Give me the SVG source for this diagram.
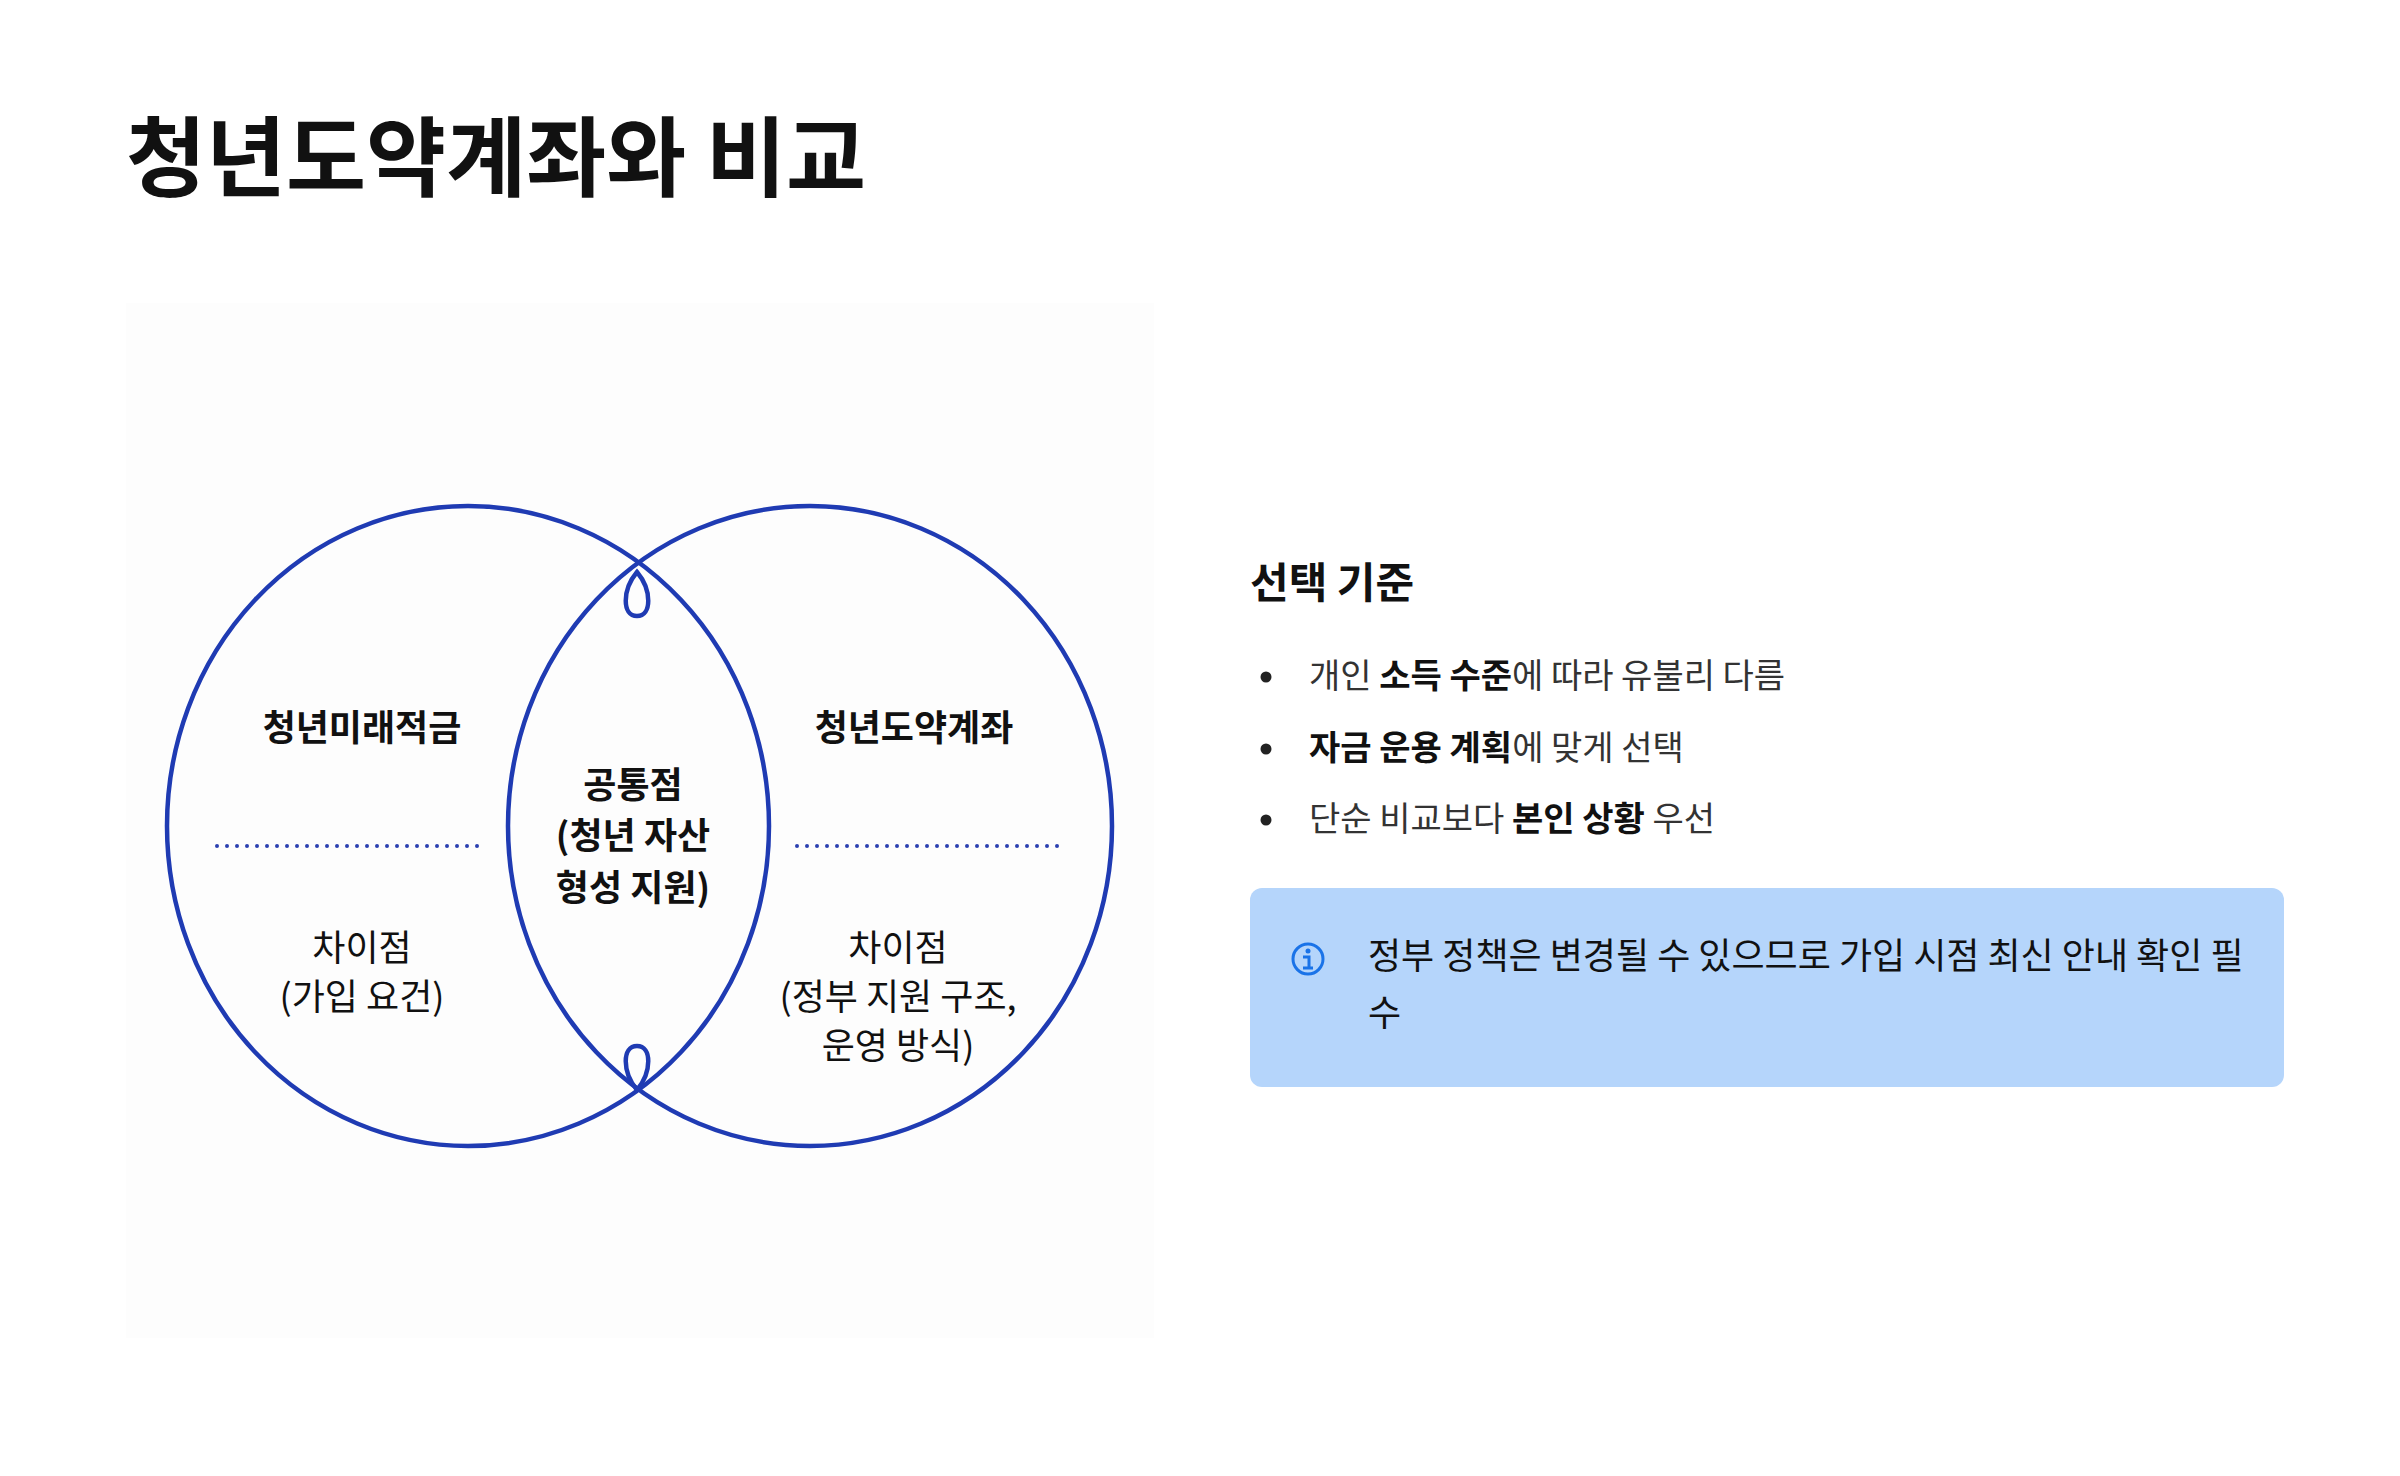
<svg xmlns="http://www.w3.org/2000/svg" width="2400" height="1476" viewBox="0 0 2400 1476">
<style>
text{font-family:"Noto Sans CJK KR","Noto Sans",sans-serif;fill:#111}
.b{font-weight:700}
.v{font-size:36px;text-anchor:middle}
.l{fill:none;stroke:#1f3bb3;stroke-width:4.5}
.dot{stroke:#2a3fb0;stroke-width:4;stroke-linecap:round;stroke-dasharray:0 10}
.bl{font-size:34px;fill:#333}
</style>
<rect width="2400" height="1476" fill="#fff"/>
<text x="126" y="190" class="b" font-size="87">청년도약계좌와 비교</text>
<rect x="126" y="303" width="1028" height="1035" fill="#fdfdfd"/>
<g id="venn">
<ellipse class="l" cx="468" cy="826" rx="301" ry="320"/>
<ellipse class="l" cx="810" cy="826" rx="302" ry="320"/>
<path class="l" d="M637 572 C622 590 622 616 637 616 C652 616 652 590 637 572Z"/>
<path class="l" d="M637 1090 C622 1072 622 1046 637 1046 C652 1046 652 1072 637 1090Z"/>
</g>
<g id="connectors">
<line class="dot" x1="217" y1="846" x2="478" y2="846"/>
<line class="dot" x1="797" y1="846" x2="1058" y2="846"/>
</g>
<g id="left">
<text x="362" y="741" class="v b">청년미래적금</text>
<text x="362" y="961" class="v">차이점</text>
<text x="362" y="1010" class="v">(가입 요건)</text>
</g>
<g id="right">
<text x="914" y="741" class="v b">청년도약계좌</text>
<text x="898" y="961" class="v">차이점</text>
<text x="898" y="1010" class="v">(정부 지원 구조,</text>
<text x="898" y="1059" class="v">운영 방식)</text>
</g>
<g id="center">
<text x="633" y="798" class="v b">공통점</text>
<text x="633" y="849" class="v b">(청년 자산</text>
<text x="633" y="901" class="v b">형성 지원)</text>
</g>
<g id="criteria">
<text x="1250" y="598" class="b" font-size="42">선택 기준</text>
<circle cx="1266" cy="677" r="5.5" fill="#222"/>
<circle cx="1266" cy="749" r="5.5" fill="#222"/>
<circle cx="1266" cy="820" r="5.5" fill="#222"/>
<text x="1309" y="688" class="bl">개인 <tspan class="b" fill="#111">소득 수준</tspan>에 따라 유불리 다름</text>
<text x="1309" y="760" class="bl"><tspan class="b" fill="#111">자금 운용 계획</tspan>에 맞게 선택</text>
<text x="1309" y="831" class="bl">단순 비교보다 <tspan class="b" fill="#111">본인 상황</tspan> 우선</text>
</g>
<g id="info">
<rect x="1250" y="888" width="1034" height="199" rx="12" fill="#b5d5fb"/>
<circle cx="1308" cy="959" r="15" fill="none" stroke="#1a73e8" stroke-width="3"/>
<circle cx="1308" cy="951" r="2.5" fill="#1a73e8"/>
<path d="M1303 957h6v11M1303 968h10" fill="none" stroke="#1a73e8" stroke-width="3"/>
<text x="1368" y="969" font-size="36" fill="#222">정부 정책은 변경될 수 있으므로 가입 시점 최신 안내 확인 필</text>
<text x="1368" y="1026" font-size="36" fill="#222">수</text>
</g>
</svg>
